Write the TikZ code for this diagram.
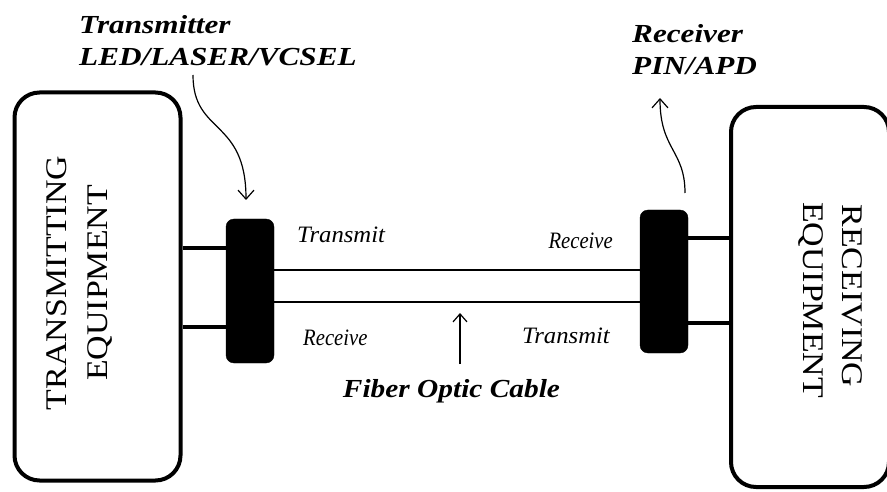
\documentclass[tikz,border=0pt]{standalone}
\usepackage{fontspec}
\setmainfont{Liberation Serif}
\newfontfamily\bigfont[FakeStretch=1.13]{Liberation Serif}
\newfontfamily\titlefont[FakeStretch=1.2]{Liberation Serif}
\newfontfamily\fibfont[FakeStretch=1.13]{Liberation Serif}
\newfontfamily\smallfont[FakeStretch=1.05]{Liberation Serif}
\newfontfamily\narrowfont[FakeStretch=0.88]{Liberation Serif}
\usetikzlibrary{arrows.meta}
\tikzset{
  equip/.style={draw, line width=4pt, rounded corners=25pt, inner sep=0pt},
  conn/.style={fill=black, draw=black, rounded corners=8pt, inner sep=0pt, minimum width=48pt},
  wire/.style={line width=4pt},
  fiber/.style={line width=1.4pt},
  pointer/.style={line width=1.2pt, -{Straight Barb[length=9pt,width=16pt]}},
  small/.style={font=\smallfont\fontsize{23.5}{26}\selectfont\itshape, inner sep=0pt},
  smallnarrow/.style={font=\narrowfont\fontsize{23.5}{26}\selectfont\itshape, inner sep=0pt},
  title/.style={font=\titlefont\fontsize{26}{32}\selectfont\bfseries\itshape, inner sep=0pt, align=left},
  fibtitle/.style={font=\fibfont\fontsize{26}{32}\selectfont\bfseries\itshape, inner sep=0pt},
  big/.style={font=\bigfont\fontsize{30}{36}\selectfont, inner sep=0pt}
}
\begin{document}
\begin{tikzpicture}[x=1pt,y=-1pt]
\useasboundingbox (0,0) rectangle (887,492);
\clip (0,0) rectangle (887,492);
% equipment boxes
\node[equip, minimum width=166pt, minimum height=388pt] (lbox) at (97.5,286.5) {};
\node[equip, minimum width=158pt, minimum height=380pt] (rbox) at (810,297) {};
\node[big, rotate=90] (ltxt1) at (57,283) {TRANSMITTING};
\node[big, rotate=90] (ltxt2) at (100,283) {EQUIPMENT};
\node[big, rotate=-90] (rtxt1) at (852,296) {RECEIVING};
\node[big, rotate=-90] (rtxt2) at (811,300) {EQUIPMENT};
% connector blocks
\node[conn, minimum height=144pt] (lblk) at (250,291) {};
\node[conn, minimum height=143pt] (rblk) at (664,281.5) {};
% wires
\draw[wire] (lbox.east |- 0,248) -- (lblk.west |- 0,248);
\draw[wire] (lbox.east |- 0,327) -- (lblk.west |- 0,327);
\draw[wire] (rblk.east |- 0,238) -- (rbox.west |- 0,238);
\draw[wire] (rblk.east |- 0,323) -- (rbox.west |- 0,323);
% fibers
\draw[fiber] (lblk.east |- 0,270) -- (rblk.west |- 0,270);
\draw[fiber] (lblk.east |- 0,302) -- (rblk.west |- 0,302);
% labels
\node[small, anchor=base west] (lt) at (297,243) {Transmit};
\node[smallnarrow, anchor=base west] (lr) at (303,345) {Receive};
\node[smallnarrow, anchor=base east] (rr) at (613,248) {Receive};
\node[small, anchor=base east] (rt) at (610,343) {Transmit};
\node[fibtitle, anchor=base] (fib) at (451.5,397) {Fiber Optic Cable};
\coordinate (fibtail) at (460,364);
\draw[line width=1.2pt, -{Straight Barb[length=8pt,width=14pt]}] (fibtail) -- (460,313);
% transmitter / receiver labels
\node[title, anchor=north west] (txl) at (79,15) {Transmitter\\LED/LASER/VCSEL};
\node[title, anchor=north west] (rxl) at (632,24) {Receiver\\PIN/APD};
\coordinate (txs) at (193,75);
\coordinate (txe) at (246,200);
\coordinate (rxs) at (685,193);
\coordinate (rxe) at (660,98);
\draw[pointer] (txs) .. controls (193,135) and (246,118) .. (txe);
\draw[pointer] (rxs) .. controls (685,150) and (660,150) .. (rxe);
\end{tikzpicture}
\end{document}
